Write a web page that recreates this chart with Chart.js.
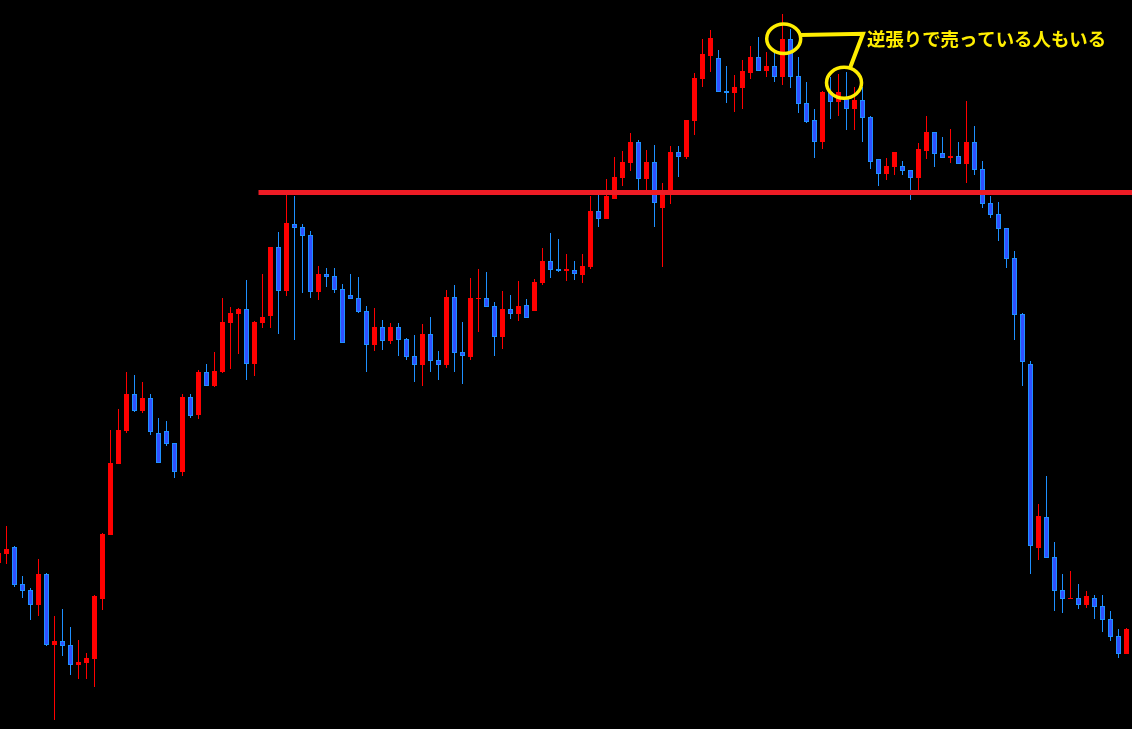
<!DOCTYPE html>
<html><head><meta charset="utf-8">
<script src="https://cdn.jsdelivr.net/npm/chart.js@4"></script>
<style>
html,body{margin:0;padding:0;background:#000;overflow:hidden}
#wrap{width:1132px;height:729px;position:relative;background:#000}
canvas{display:block}
</style>
</head><body><div id="wrap"><canvas id="c" width="1132" height="729"></canvas></div>
<script>
// candle index of the first entry (partially cut at the left edge)
const firstIndex = -1;

const open = [
  166, 175, 182, 145, 139, 124, 155, 84, 88, 84,
  64, 66, 70, 130, 194, 265, 298, 335, 318, 331,
  296, 298, 286, 257, 332, 314, 357, 343, 357, 406,
  415, 420, 365, 406, 413, 482, 438, 505, 502, 494,
  437, 455, 453, 440, 434, 431, 418, 384, 402, 388,
  402, 390, 373, 364, 395, 369, 364, 432, 377, 372,
  430, 431, 423, 392, 420, 415, 424, 418, 446, 468,
  460, 458, 459, 454, 462, 518, 510, 530, 551, 566,
  587, 550, 567, 521, 538, 577, 572, 608, 650, 673,
  671, 638, 636, 641, 656, 672, 658, 663, 652, 690,
  653, 626, 609, 587, 637, 627, 632, 620, 629, 612,
  570, 555, 562, 563, 559, 551, 578, 597, 576, 571,
  573, 565, 587, 560, 526, 515, 501, 471, 415, 365,
  181, 212, 172, 139, 130, 131, 124, 131, 123, 110,
  93, 75
];
const high = [
  181, 203, 183, 153, 141, 170, 156, 113, 120, 102,
  89, 76, 134, 196, 299, 320, 357, 354, 347, 335,
  311, 308, 286, 335, 335, 359, 365, 377, 431, 422,
  421, 449, 408, 455, 482, 497, 534, 533, 505, 498,
  463, 461, 461, 445, 455, 452, 423, 421, 409, 406,
  406, 391, 394, 405, 412, 378, 439, 444, 407, 451,
  460, 457, 427, 438, 434, 448, 430, 450, 481, 496,
  490, 475, 468, 475, 533, 534, 550, 572, 578, 596,
  589, 579, 584, 546, 583, 583, 609, 656, 690, 699,
  679, 663, 654, 669, 683, 692, 677, 677, 715, 700,
  672, 647, 620, 638, 652, 655, 657, 642, 642, 613,
  570, 571, 577, 568, 559, 586, 613, 597, 592, 600,
  587, 628, 603, 568, 533, 527, 501, 478, 416, 368,
  225, 253, 187, 155, 158, 145, 138, 134, 134, 118,
  100, 101
];
const low = [
  163, 165, 142, 131, 109, 113, 83, 9, 73, 54,
  50, 50, 42, 119, 194, 265, 296, 317, 316, 294,
  266, 283, 251, 253, 311, 310, 343, 342, 356, 360,
  375, 349, 353, 401, 401, 395, 433, 389, 436, 431,
  429, 442, 436, 386, 430, 416, 357, 378, 379, 385,
  373, 369, 347, 343, 357, 349, 361, 357, 345, 369,
  397, 422, 373, 380, 410, 408, 411, 418, 444, 451,
  457, 448, 449, 446, 460, 502, 510, 530, 543, 558,
  538, 538, 502, 462, 525, 552, 570, 594, 642, 657,
  637, 626, 617, 620, 650, 658, 652, 647, 644, 641,
  616, 606, 571, 580, 610, 613, 599, 599, 587, 560,
  543, 549, 554, 554, 529, 539, 570, 562, 571, 566,
  565, 546, 554, 521, 511, 488, 461, 389, 343, 155,
  169, 171, 118, 116, 130, 120, 121, 110, 97, 88,
  71, 75
];
const close = [
  176, 180, 144, 138, 124, 155, 84, 88, 83, 64,
  67, 71, 133, 195, 266, 299, 335, 318, 331, 297,
  266, 285, 257, 332, 313, 357, 343, 358, 407, 416,
  420, 365, 407, 412, 482, 438, 506, 501, 493, 437,
  455, 452, 439, 386, 430, 417, 384, 402, 388, 402,
  389, 372, 364, 395, 368, 364, 432, 376, 373, 431,
  431, 422, 392, 420, 415, 423, 411, 447, 468, 459,
  458, 460, 455, 463, 518, 510, 533, 552, 567, 587,
  550, 567, 526, 534, 577, 572, 609, 651, 675, 691,
  637, 636, 642, 658, 672, 658, 663, 652, 690, 652,
  625, 607, 587, 637, 627, 637, 620, 629, 611, 567,
  555, 563, 577, 558, 551, 580, 597, 575, 571, 573,
  565, 587, 559, 525, 514, 500, 470, 414, 367, 183,
  213, 171, 138, 130, 131, 124, 133, 122, 109, 92,
  75, 100
];

// horizontal resistance/support level
const levelPrice = 536.5;
const levelFromIndex = 31.5;

// annotation
const noteText = '逆張りで売っている人もいる';
const noteAnchor = {x: 107.56, y: 690};
const noteCircles = [
  {x: 97.15, y: 690.3, rx: 17, ry: 14.7},
  {x: 104.69, y: 646.2, rx: 17.5, ry: 15.5}
];
const notePath = [[99.25, 694], [107.06, 695.3], [105.44, 661]];

const UP = '#FF0000', DOWN_FILL = '#3050FF', DOWN_LINE = '#1E90FF', NOTE = '#FFEE00';

const idx = open.map((_, i) => firstIndex + i);
const bodies = idx.map((x, i) => ({x, y: [open[i], close[i]]}));
const wicks = idx.map((x, i) => ({x, y: [low[i], high[i]]}));
const isUp = i => close[i] >= open[i];

const notePlugin = {
  id: 'note',
  afterDatasetsDraw(chart) {
    const {ctx, scales: {x, y}} = chart;
    ctx.save();
    ctx.strokeStyle = NOTE;
    ctx.lineWidth = 3.5;
    noteCircles.forEach(c => {
      ctx.beginPath();
      ctx.ellipse(x.getPixelForValue(c.x), y.getPixelForValue(c.y), c.rx, c.ry, 0, 0, Math.PI * 2);
      ctx.stroke();
    });
    ctx.lineWidth = 4;
    ctx.lineJoin = 'miter';
    ctx.beginPath();
    notePath.forEach((p, i) => {
      const px = x.getPixelForValue(p[0]), py = y.getPixelForValue(p[1]);
      if (i === 0) ctx.moveTo(px, py); else ctx.lineTo(px, py);
    });
    ctx.stroke();
    ctx.fillStyle = NOTE;
    ctx.font = 'bold 18.4px "Noto Sans CJK JP", "Noto Sans CJK SC", sans-serif';
    ctx.textBaseline = 'middle';
    ctx.textAlign = 'left';
    ctx.fillText(noteText, x.getPixelForValue(noteAnchor.x), y.getPixelForValue(noteAnchor.y));
    ctx.restore();
  }
};

new Chart(document.getElementById('c'), {
  type: 'bar',
  data: {
    datasets: [
      {
        type: 'line',
        order: 0,
        data: [{x: levelFromIndex, y: levelPrice}, {x: 140.6875, y: levelPrice}],
        borderColor: '#EE1C25',
        borderWidth: 5,
        pointRadius: 0,
        borderCapStyle: 'butt',
        tension: 0
      },
      {
        order: 1,
        data: bodies,
        grouped: false,
        barThickness: 5,
        minBarLength: 1,
        inflateAmount: 0,
        borderSkipped: false,
        backgroundColor: c => isUp(c.dataIndex) ? UP : DOWN_FILL,
        borderColor: c => isUp(c.dataIndex) ? UP : DOWN_LINE,
        borderWidth: c => isUp(c.dataIndex) ? 0 : 1
      },
      {
        order: 2,
        data: wicks,
        grouped: false,
        barThickness: 1,
        inflateAmount: 0,
        borderWidth: 0,
        backgroundColor: c => isUp(c.dataIndex) ? UP : DOWN_LINE
      }
    ]
  },
  options: {
    responsive: false,
    devicePixelRatio: 1,
    animation: false,
    layout: {padding: 0},
    plugins: {legend: {display: false}, tooltip: {enabled: false}},
    scales: {
      x: {type: 'linear', display: false, offset: false, min: -0.8125, max: 140.6875},
      y: {type: 'linear', display: false, min: 0, max: 729}
    }
  },
  plugins: [notePlugin]
});
</script>
</body></html>
